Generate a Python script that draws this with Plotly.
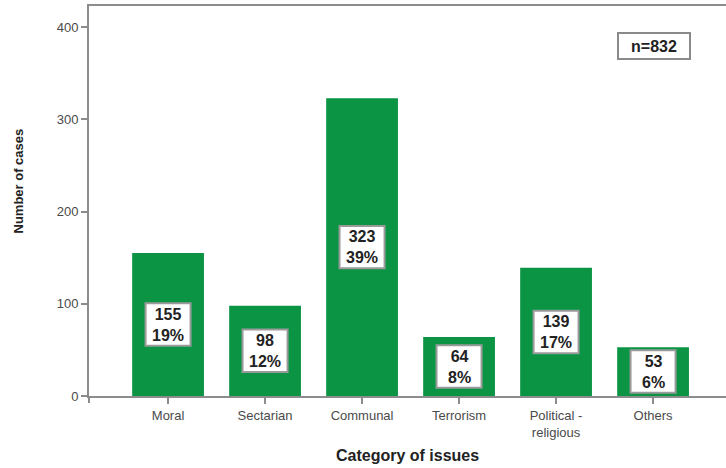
import plotly.graph_objects as go

categories = ["Moral", "Sectarian", "Communal", "Terrorism", "Political -<br>religious", "Others"]
cases = [155, 98, 323, 64, 139, 53]
percents = ["19%", "12%", "39%", "8%", "17%", "6%"]
total_n = 832
y_ticks = [0, 100, 200, 300, 400]

FONT = "Liberation Sans, Arial, sans-serif"
x_idx = list(range(len(categories)))

fig = go.Figure()
fig.add_trace(go.Bar(
    x=x_idx, y=cases, width=0.74,
    marker=dict(color="#0B9444", line=dict(width=0)),
    hoverinfo="skip",
))

shapes = []
annotations = []
BOX_HALF_W = 0.232   # in category units
BOX_HALF_H = 23.0    # in data units
for i, (v, p) in enumerate(zip(cases, percents)):
    mid = v / 2
    shapes.append(dict(
        type="rect", xref="x", yref="y",
        x0=i - BOX_HALF_W, x1=i + BOX_HALF_W, y0=mid - BOX_HALF_H, y1=mid + BOX_HALF_H,
        fillcolor="white", line=dict(color="#9a9a9a", width=2), layer="above",
    ))
    annotations.append(dict(
        x=i, y=mid, xref="x", yref="y",
        text=f"<b>{v}<br>{p}</b>", showarrow=False,
        font=dict(family=FONT, size=16, color="#222222"),
        xanchor="center", yanchor="middle", align="center",
    ))

# small extension of y-axis line below zero
shapes.append(dict(type="line", xref="paper", yref="paper", x0=0, x1=0, y0=0, y1=-0.018,
                   line=dict(color="#8c8c8c", width=2)))

annotations.append(dict(
    x=0.887, y=0.897, xref="paper", yref="paper",
    text=f"<b>n={total_n}</b>", showarrow=False,
    font=dict(family=FONT, size=16, color="#222222"),
    bgcolor="white", bordercolor="#8a8a8a", borderwidth=2, borderpad=2,
    width=66, height=20,
    xanchor="center", yanchor="middle",
))

annotations.append(dict(
    x=0.5, y=-0.152, xref="paper", yref="paper",
    text="<b>Category of issues</b>", showarrow=False,
    font=dict(family=FONT, size=16, color="#222222"),
    xanchor="center", yanchor="middle",
))
annotations.append(dict(
    x=(18 - 89) / 637, y=0.55, xref="paper", yref="paper",
    text="<b>Number of cases</b>", showarrow=False, textangle=-90,
    font=dict(family=FONT, size=13, color="#222222"),
    xanchor="center", yanchor="middle",
))

fig.update_layout(
    width=726, height=468,
    margin=dict(l=89, r=0, t=6, b=72),
    paper_bgcolor="white", plot_bgcolor="white",
    showlegend=False,
    shapes=shapes,
    annotations=annotations,
    xaxis=dict(
        range=[-0.815, 5.752],
        tickmode="array", tickvals=x_idx, ticktext=categories,
        showline=True, linecolor="#8c8c8c", linewidth=2, mirror=True,
        ticks="outside", ticklen=6, tickcolor="#8c8c8c", tickwidth=1.5,
        tickfont=dict(family=FONT, size=13, color="#4a4a4a"),
        showgrid=False, zeroline=False,
    ),
    yaxis=dict(
        range=[0, 423],
        tickmode="array", tickvals=y_ticks,
        showline=True, linecolor="#8c8c8c", linewidth=2,
        ticks="outside", ticklen=6, tickcolor="#8c8c8c", tickwidth=1.5,
        tickfont=dict(family=FONT, size=13, color="#4a4a4a"),
        showgrid=False, zeroline=False,
    ),
)

fig.write_html("out.html", config={"displayModeBar": False},
               post_script="document.body.style.margin='0';")
